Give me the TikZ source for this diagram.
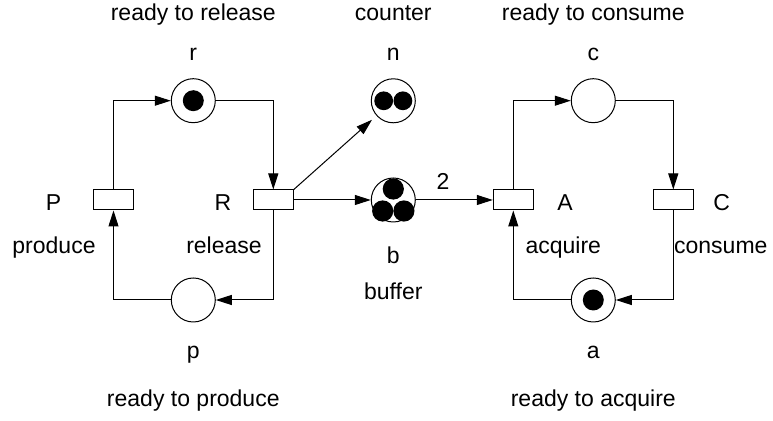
\documentclass[tikz,border=0pt]{standalone}
\usepackage{xcolor}
\usepackage{fontspec}
\setmainfont{Liberation Sans}
\usepackage{tikz}
\usetikzlibrary{arrows.meta}

\tikzset{
  place/.style={circle,draw,line width=0.5pt,minimum size=22pt,inner sep=0pt},
  transition/.style={rectangle,draw,line width=0.5pt,minimum width=20pt,minimum height=10pt,inner sep=0pt},
  arc/.style={line width=0.5pt,-{Triangle[length=8pt,width=5pt]}},
  lbl/.style={anchor=base,inner sep=0pt}
}

\begin{document}
\begin{tikzpicture}[x=0.5pt,y=-0.5pt]
                        \useasboundingbox (0,0) rectangle (773,421);
                        {\fontsize{11.5}{14}\selectfont

                        % Drawing places
                        \node [place] (r) at (193.3,100.7) {};%
                        \node [place] (p) at (193.3,300.0) {};%
                        \node [place] (n) at (393.3,100.8) {};%
                        \node [place] (b) at (393.3,200.0) {};%
                        \node [place] (c) at (593.3,100.7) {};%
                        \node [place] (a) at (593.3,300.0) {};%

                        % Drawing transitions
                        \node [transition] (P) at (113.5,200.0) {};%
                        \node [transition] (R) at (273.3,200.0) {};%
                        \node [transition] (A) at (513.3,200.0) {};%
                        \node [transition] (C) at (673.3,200.0) {};%

                        % Marking tokens
                        \fill (r) circle [radius=5.25pt];%
                        \fill (a) circle [radius=5.25pt];%
                        \fill ([xshift=-4.8pt]n.center) circle [radius=4.7pt];%
                        \fill ([xshift=4.8pt]n.center) circle [radius=4.7pt];%
                        \fill ([yshift=5.5pt]b.center) circle [radius=5.3pt];%
                        \fill ([xshift=-5.3pt,yshift=-5.5pt]b.center) circle [radius=5.3pt];%
                        \fill ([xshift=5.3pt,yshift=-5.5pt]b.center) circle [radius=5.3pt];%

                        % Drawing arcs of the producer
                        \draw [arc] (P.north) |- (r);%
                        \draw [arc] (r) -| (R.north);%
                        \draw [arc] (R.south) |- (p);%
                        \draw [arc] (p) -| (P.south);%

                        % Drawing arcs to counter and buffer
                        \draw [arc,shorten >=3pt] (R.north east) -- (n);%
                        \draw [arc] (R.east) -- (b);%
                        \draw [arc] (b) -- (A.west);%
                        \node [lbl] (w) at (443.0,190.0) {2};%

                        % Drawing arcs of the consumer
                        \draw [arc] (A.north) |- (c);%
                        \draw [arc] (c) -| (C.north);%
                        \draw [arc] (C.south) |- (a);%
                        \draw [arc] (a) -| (A.south);%

                        % Marking names of places
                        \node [lbl] (rname) at (193.3,21.0) {ready to release};%
                        \node [lbl] (rlbl) at (193.3,61.0) {r};%
                        \node [lbl] (nname) at (393.3,21.0) {counter};%
                        \node [lbl] (nlbl) at (393.3,61.0) {n};%
                        \node [lbl] (cname) at (593.3,21.0) {ready to consume};%
                        \node [lbl] (clbl) at (593.3,61.0) {c};%
                        \node [lbl] (blbl) at (393.3,264.0) {b};%
                        \node [lbl] (bname) at (393.3,300.0) {buffer};%
                        \node [lbl] (plbl) at (193.3,359.0) {p};%
                        \node [lbl] (pname) at (193.3,407.0) {ready to produce};%
                        \node [lbl] (albl) at (593.3,359.0) {a};%
                        \node [lbl] (aname) at (593.3,407.0) {ready to acquire};%

                        % Marking names of transitions
                        \node [lbl] (Plbl) at (53.5,211.0) {P};%
                        \node [lbl] (Pname) at (54.0,254.0) {produce};%
                        \node [lbl] (Rlbl) at (223.0,211.0) {R};%
                        \node [lbl] (Rname) at (224.0,254.0) {release};%
                        \node [lbl] (Albl) at (565.0,211.0) {A};%
                        \node [lbl] (Aname) at (563.3,254.0) {acquire};%
                        \node [lbl] (Clbl) at (721.7,211.0) {C};%
                        \node [lbl] (Cname) at (720.8,254.0) {consume};%
                        }
\end{tikzpicture}
\end{document}
